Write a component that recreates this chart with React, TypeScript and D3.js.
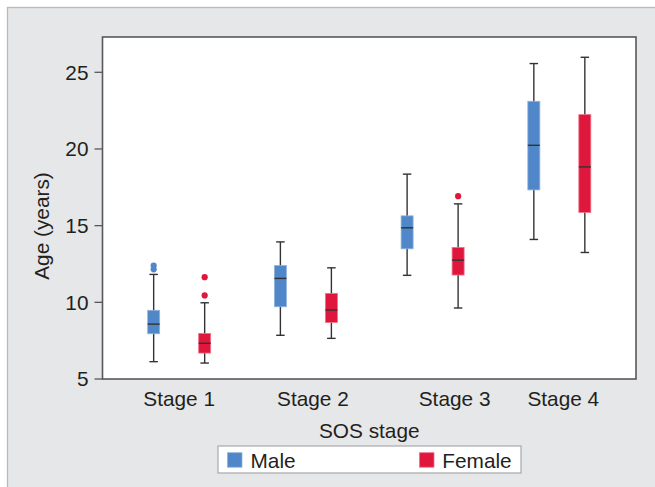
import React from "react";
import * as d3 from "d3";

const stages = ["Stage 1", "Stage 2", "Stage 3", "Stage 4"];
const groups = ["Male", "Female"];
const colors = ["#4f87c8", "#e0173d"];
const strokeColors = ["#8fb3de", "#ee7288"];

// [whiskerLow, q1, median, q3, whiskerHigh]
const maleStats = [
  [6.13, 7.95, 8.58, 9.48, 11.82],
  [7.85, 9.71, 11.56, 12.4, 13.94],
  [11.76, 13.49, 14.86, 15.64, 18.36],
  [14.1, 17.33, 20.24, 23.11, 25.57],
];
const femaleStats = [
  [6.04, 6.69, 7.33, 7.97, 9.97],
  [7.65, 8.69, 9.5, 10.58, 12.25],
  [9.63, 11.78, 12.75, 13.58, 16.42],
  [13.25, 15.86, 18.83, 22.24, 25.98],
];
const maleOutliers = [[12.15, 12.4], [], [], []];
const femaleOutliers = [[10.45, 11.64], [], [16.92], []];
const yTicks = [5, 10, 15, 20, 25];
const stageLabelOffsets = [0, 7, 22, 4];

const W = 655;
const H = 487;
const left = 102.5;
const right = 636;
const top = 37;
const bottom = 379;
const FS = 20.8;

export default function App() {
  const x = d3
    .scaleBand<string>()
    .domain(stages)
    .range([left, right])
    .paddingInner(0)
    .paddingOuter(0.105);
  const y = d3.scaleLinear().domain([5, 25]).range([bottom, 72.3]);
  const off = 25.5;
  const bw = 12;
  const capW = 8.5;
  const font = "'Liberation Sans', Arial, Helvetica, sans-serif";
  const stats = [maleStats, femaleStats];
  const outs = [maleOutliers, femaleOutliers];

  return (
    <svg
      width={W}
      height={H}
      style={{ position: "absolute", left: 0, top: 0 }}
      fontFamily={font}
    >
      <rect x={0} y={0} width={W} height={H} fill="#ffffff" />
      <rect x={7.5} y={7.5} width={W} height={H} fill="#e6e7e9" stroke="#b9b9bb" strokeWidth={1.3} />
      <rect x={left} y={top} width={right - left} height={bottom - top} fill="#ffffff" stroke="#58585a" strokeWidth={1.6} />

      {yTicks.map((t) => (
        <g key={t}>
          <line x1={left - 8} x2={left} y1={y(t)} y2={y(t)} stroke="#58585a" strokeWidth={1.3} />
          <text x={left - 14} y={y(t)} dy="0.36em" textAnchor="end" fontSize={FS} fill="#231f20">
            {t}
          </text>
        </g>
      ))}
      <text
        transform={`translate(49,226) rotate(-90)`}
        textAnchor="middle"
        fontSize={FS}
        fill="#231f20"
      >
        Age (years)
      </text>

      {stages.map((s, i) => (
        <text
          key={s}
          x={(x(s) as number) + x.bandwidth() / 2 + stageLabelOffsets[i]}
          y={406}
          textAnchor="middle"
          fontSize={FS}
          fill="#231f20"
        >
          {s}
        </text>
      ))}
      <text x={(left + right) / 2} y={438} textAnchor="middle" fontSize={FS} fill="#231f20">
        SOS stage
      </text>

      {groups.map((g, gi) =>
        stages.map((s, si) => {
          const cx = (x(s) as number) + x.bandwidth() / 2 + (gi === 0 ? -off : off);
          const [lo, q1, med, q3, hi] = stats[gi][si];
          return (
            <g key={g + s}>
              <line x1={cx} x2={cx} y1={y(hi)} y2={y(lo)} stroke="#333333" strokeWidth={1.4} />
              <line x1={cx - capW / 2} x2={cx + capW / 2} y1={y(hi)} y2={y(hi)} stroke="#333333" strokeWidth={1.4} />
              <line x1={cx - capW / 2} x2={cx + capW / 2} y1={y(lo)} y2={y(lo)} stroke="#333333" strokeWidth={1.4} />
              <rect
                x={cx - bw / 2}
                y={y(q3)}
                width={bw}
                height={y(q1) - y(q3)}
                fill={colors[gi]}
                stroke={strokeColors[gi]}
                strokeWidth={0.8}
              />
              <line x1={cx - bw / 2} x2={cx + bw / 2} y1={y(med)} y2={y(med)} stroke="#333333" strokeWidth={1.4} />
              {outs[gi][si].map((v, k) => (
                <circle key={k} cx={cx} cy={y(v)} r={3.1} fill={colors[gi]} />
              ))}
            </g>
          );
        })
      )}

      <rect x={218} y={446} width={303} height={27} fill="#ffffff" stroke="#a7a9ac" strokeWidth={1.2} />
      <rect x={227.5} y={452.7} width={14.5} height={14.5} fill={colors[0]} stroke={strokeColors[0]} strokeWidth={0.8} />
      <text x={250.5} y={467.5} fontSize={FS} fill="#231f20">
        Male
      </text>
      <rect x={419.5} y={452.7} width={14.5} height={14.5} fill={colors[1]} stroke={strokeColors[1]} strokeWidth={0.8} />
      <text x={442.3} y={467.5} fontSize={FS} fill="#231f20">
        Female
      </text>
    </svg>
  );
}
